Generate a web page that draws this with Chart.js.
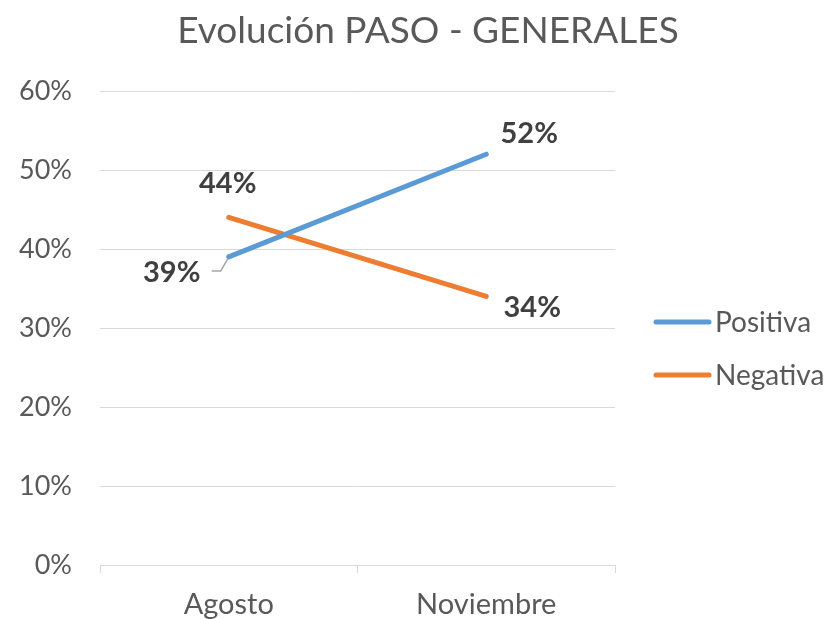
<!DOCTYPE html>
<html>
<head>
<meta charset="utf-8">
<script src="https://cdn.jsdelivr.net/npm/chart.js@4"></script>
<style>
  html, body { margin: 0; padding: 0; background: #fff; }
  #wrap { width: 831px; height: 619px; }
</style>
</head>
<body>
<div id="wrap"><canvas id="chart"></canvas></div>
<script>
const categories = ['Agosto', 'Noviembre'];
const positiva = [39, 52];
const negativa = [44, 34];
const yTicks = [0, 10, 20, 30, 40, 50, 60];

const FONT = 'Lato, "Open Sans", sans-serif';

// label offsets from the point (style only)
const labelOffsets = [
    [[-57, 16], [43, -21]],
    [[-1, -34], [46, 11]]
];

const dataLabels = {
    id: 'dataLabels',
    afterDatasetsDraw(chart) {
        const ctx = chart.ctx;
        ctx.save();
        ctx.font = 'bold 29px ' + FONT;
        ctx.fillStyle = '#404040';
        ctx.textAlign = 'center';
        ctx.textBaseline = 'middle';
        chart.data.datasets.forEach((ds, i) => {
            chart.getDatasetMeta(i).data.forEach((pt, j) => {
                const off = labelOffsets[i][j];
                ctx.fillText(ds.data[j] + '%', pt.x + off[0], pt.y + off[1]);
            });
        });
        // leader line for the first Positiva label
        const p = chart.getDatasetMeta(0).data[0];
        ctx.strokeStyle = '#a6a6a6';
        ctx.lineWidth = 1.5;
        ctx.beginPath();
        ctx.moveTo(p.x - 17, p.y + 14);
        ctx.lineTo(p.x - 8, p.y + 14);
        ctx.lineTo(p.x - 1, p.y + 2);
        ctx.stroke();
        ctx.restore();
    }
};

const titleAndLegend = {
    id: 'titleAndLegend',
    afterDraw(chart) {
        const ctx = chart.ctx;
        ctx.save();
        ctx.fillStyle = '#595959';
        ctx.font = '37px ' + FONT;
        ctx.textAlign = 'center';
        ctx.textBaseline = 'middle';
        ctx.fillText('Evolución PASO - GENERALES', 428, 31);

        ctx.font = '28px ' + FONT;
        ctx.textAlign = 'left';
        chart.data.datasets.forEach((ds, i) => {
            const y = 322 + i * 53;
            ctx.strokeStyle = ds.borderColor;
            ctx.lineWidth = 5;
            ctx.lineCap = 'round';
            ctx.beginPath();
            ctx.moveTo(656, y);
            ctx.lineTo(709, y);
            ctx.stroke();
            ctx.fillStyle = '#595959';
            ctx.fillText(ds.label, 715, y + 1);
        });
        ctx.restore();
    }
};

new Chart(document.getElementById('chart'), {
    type: 'line',
    data: {
        labels: categories,
        datasets: [
            {
                label: 'Positiva',
                data: positiva,
                borderColor: '#5b9bd5',
                borderWidth: 5,
                borderCapStyle: 'round',
                pointRadius: 0,
                tension: 0
            },
            {
                label: 'Negativa',
                data: negativa,
                borderColor: '#ed7d31',
                borderWidth: 5,
                borderCapStyle: 'round',
                pointRadius: 0,
                tension: 0
            }
        ]
    },
    options: {
        responsive: true,
        maintainAspectRatio: false,
        animation: false,
        layout: { padding: { top: 91, right: 216, left: 0, bottom: 0 } },
        plugins: {
            legend: { display: false },
            title: { display: false },
            tooltip: { enabled: false }
        },
        scales: {
            x: {
                offset: true,
                afterFit(scale) { scale.height = 54; },
                grid: {
                    offset: true,
                    drawOnChartArea: false,
                    drawTicks: true,
                    tickLength: 8,
                    color: '#d9d9d9'
                },
                border: { display: true, color: '#d9d9d9', width: 1 },
                ticks: {
                    color: '#595959',
                    font: { size: 29, family: FONT },
                    padding: 14
                }
            },
            y: {
                min: 0,
                max: 60,
                afterFit(scale) { scale.width = 100; },
                afterBuildTicks(scale) {
                    scale.ticks = yTicks.map(v => ({ value: v }));
                },
                grid: {
                    color: '#d9d9d9',
                    drawTicks: false
                },
                border: { display: false },
                ticks: {
                    color: '#595959',
                    font: { size: 27, family: FONT },
                    padding: 28,
                    callback: v => v + '%'
                }
            }
        }
    },
    plugins: [dataLabels, titleAndLegend]
});
</script>
</body>
</html>
